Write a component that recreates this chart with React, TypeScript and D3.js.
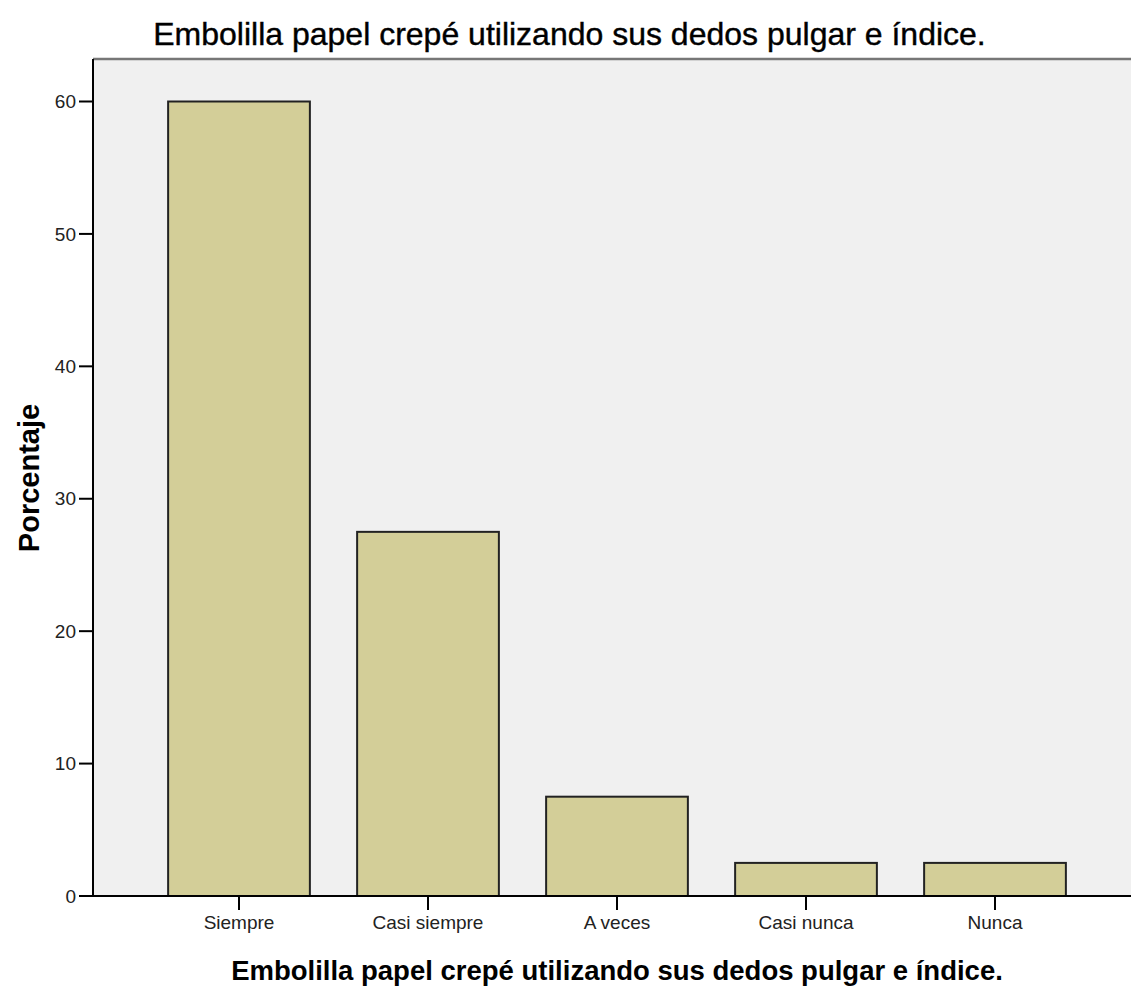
import React from "react";
import * as d3 from "d3";

const categories = ["Siempre", "Casi siempre", "A veces", "Casi nunca", "Nunca"];
const values = [60, 27.5, 7.5, 2.5, 2.5];
const yTicks = [0, 10, 20, 30, 40, 50, 60];
const title = "Embolilla papel crepé utilizando sus dedos pulgar e índice.";
const xTitle = "Embolilla papel crepé utilizando sus dedos pulgar e índice.";
const yTitle = "Porcentaje";

export default function App() {
  const W = 1131, H = 987;
  const left = 93, right = 1131, top = 59, bottom = 896;
  const y = d3.scaleLinear().domain([0, 60]).range([bottom, 101.5]);
  const x = d3.scaleBand<string>().domain(categories).range([144.5, 1089.5]).paddingInner(0.25).paddingOuter(0.125);
  const font = "'Liberation Sans', Arial, sans-serif";
  return (
    <svg width={W} height={H} style={{ position: "absolute", left: 0, top: 0, background: "#fff" }} fontFamily={font}>
      <rect x={left} y={top} width={right - left} height={bottom - top} fill="#f0f0f0" />
      <line x1={left} x2={right} y1={top} y2={top} stroke="#777" strokeWidth={2.5} />
      {categories.map((c, i) => (
        <rect key={c} x={x(c)} y={y(values[i])} width={x.bandwidth()} height={y(0) - y(values[i])}
          fill="#d3ce98" stroke="#222" strokeWidth={2} />
      ))}
      <line x1={left} x2={left} y1={top} y2={bottom} stroke="#000" strokeWidth={2} />
      <line x1={left} x2={right} y1={bottom} y2={bottom} stroke="#000" strokeWidth={2} />
      {yTicks.map(t => (
        <g key={t}>
          <line x1={left - 14} x2={left} y1={y(t)} y2={y(t)} stroke="#000" strokeWidth={2} />
          <text x={76} y={y(t)} dy="0.35em" textAnchor="end" fontSize={19} fill="#222">{t}</text>
        </g>
      ))}
      {categories.map(c => {
        const cx = (x(c) as number) + x.bandwidth() / 2;
        return (
          <g key={c}>
            <line x1={cx} x2={cx} y1={bottom} y2={bottom + 14} stroke="#000" strokeWidth={2} />
            <text x={cx} y={929} textAnchor="middle" fontSize={19} fill="#222">{c}</text>
          </g>
        );
      })}
      <text x={569.5} y={45} textAnchor="middle" fontSize={32} fill="#000" stroke="#000" strokeWidth={0.4}>{title}</text>
      <text x={617} y={980} textAnchor="middle" fontSize={27.5} fontWeight="bold" fill="#000">{xTitle}</text>
      <text transform="translate(39,478) rotate(-90)" textAnchor="middle" fontSize={29} fontWeight="bold" fill="#000">{yTitle}</text>
    </svg>
  );
}
